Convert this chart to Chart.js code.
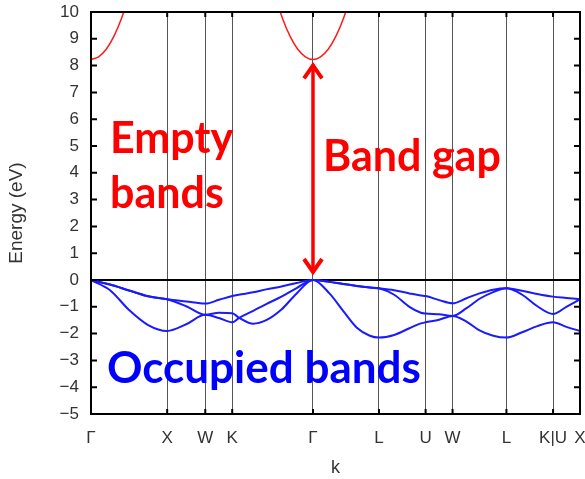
<!DOCTYPE html>
<html>
<head>
<meta charset="utf-8">
<script src="https://cdn.jsdelivr.net/npm/chart.js@4"></script>
<style>
  html, body { margin: 0; padding: 0; background: #fff; }
  #wrap { width: 585px; height: 479px; }
</style>
</head>
<body>
<div id="wrap"><canvas id="bandChart" width="585" height="479"></canvas></div>
<script>
// high-symmetry points along the k path
const symK = [0, 1, 1.5, 1.8536, 2.9142, 3.7802, 4.3926, 4.7462, 5.4533, 6.0657, 6.4193];
const symLabels = ['Γ', 'X', 'W', 'K', 'Γ', 'L', 'U', 'W', 'L', 'K|U', 'X'];

// sample points for the occupied (valence) bands
const kPath = [0, 0.25, 0.5, 0.75, 1, 1.25, 1.5, 1.68, 1.8536, 1.94, 2.13, 2.3, 2.5, 2.7, 2.9142,
  3.13, 3.31, 3.49, 3.66, 3.7802, 3.98, 4.18, 4.33, 4.3926, 4.57, 4.7462,
  4.93, 5.1, 5.28, 5.4533, 5.66, 5.86, 6.0657, 6.24, 6.4193];
const band1 = [0, -0.17, -0.39, -0.61, -0.72, -0.80, -0.88, -0.74, -0.60, -0.55, -0.46, -0.35, -0.24, -0.11, 0,
  -0.07, -0.15, -0.22, -0.28, -0.31, -0.38, -0.50, -0.58, -0.60, -0.75, -0.87,
  -0.68, -0.50, -0.36, -0.31, -0.40, -0.52, -0.62, -0.67, -0.72];
const band2 = [0, -0.17, -0.39, -0.61, -0.72, -0.98, -1.30, -1.22, -1.24, -1.40, -1.63, -1.50, -1.10, -0.50, 0,
  -0.07, -0.15, -0.22, -0.28, -0.31, -0.55, -1.00, -1.22, -1.25, -1.28, -1.34,
  -1.05, -0.70, -0.45, -0.31, -0.55, -0.98, -1.27, -1.00, -0.72];
const band3 = [0, -0.38, -1.12, -1.68, -1.90, -1.65, -1.30, -1.42, -1.58, -1.42, -1.15, -0.90, -0.62, -0.30, 0,
  -0.50, -1.15, -1.78, -2.08, -2.15, -2.05, -1.80, -1.62, -1.58, -1.48, -1.34,
  -1.55, -1.88, -2.08, -2.15, -1.95, -1.72, -1.58, -1.75, -1.90];

// lowest empty band near the two Γ points
const cbK1 = [0, 0.1, 0.2, 0.3, 0.4, 0.5];
const cbE1 = [8.23, 8.33, 8.61, 9.09, 9.76, 10.62];
const cbK2 = [2.414, 2.514, 2.614, 2.714, 2.814, 2.9142, 3.014, 3.114, 3.214, 3.314, 3.414];
const cbE2 = [10.62, 9.76, 9.09, 8.61, 8.33, 8.23, 8.33, 8.61, 9.09, 9.76, 10.62];

const toPts = (xs, ys) => xs.map((x, i) => ({ x: x, y: ys[i] }));

function bandSet(xs, ys, color, width) {
  return {
    data: toPts(xs, ys),
    showLine: true,
    borderColor: color,
    borderWidth: width,
    pointRadius: 0,
    cubicInterpolationMode: 'monotone',
    fill: false
  };
}

// frame, inward ticks, arrow and labels
const decorations = {
  id: 'decorations',
  afterDraw(chart) {
    const ctx = chart.ctx;
    const area = chart.chartArea;
    const xs = chart.scales.x;
    const ys = chart.scales.y;
    ctx.save();

    // ticks pointing inward
    ctx.strokeStyle = '#000';
    ctx.lineWidth = 2;
    ys.ticks.forEach(t => {
      const py = ys.getPixelForValue(t.value);
      ctx.beginPath();
      ctx.moveTo(area.left, py); ctx.lineTo(area.left + 6, py);
      ctx.moveTo(area.right, py); ctx.lineTo(area.right - 6, py);
      ctx.stroke();
    });
    symK.forEach(k => {
      const px = xs.getPixelForValue(k);
      ctx.beginPath();
      ctx.moveTo(px, area.bottom); ctx.lineTo(px, area.bottom - 5);
      ctx.moveTo(px, area.top); ctx.lineTo(px, area.top + 5);
      ctx.stroke();
    });

    // frame
    ctx.lineWidth = 2;
    ctx.strokeRect(area.left, area.top, area.right - area.left, area.bottom - area.top);

    // band gap arrow
    const ax = xs.getPixelForValue(symK[4]);
    const yTop = ys.getPixelForValue(cbE2[5]) + 3;
    const yBot = ys.getPixelForValue(0) - 5;
    ctx.strokeStyle = '#ff0000';
    ctx.lineWidth = 3.5;
    ctx.lineCap = 'butt';
    ctx.beginPath();
    ctx.moveTo(ax, yTop + 2); ctx.lineTo(ax, yBot - 2);
    ctx.stroke();
    ctx.lineWidth = 4;
    ctx.lineJoin = 'miter';
    ctx.beginPath();
    ctx.moveTo(ax - 9, yTop + 16); ctx.lineTo(ax, yTop + 3); ctx.lineTo(ax + 9, yTop + 16);
    ctx.moveTo(ax - 9, yBot - 16); ctx.lineTo(ax, yBot - 3); ctx.lineTo(ax + 9, yBot - 16);
    ctx.stroke();

    // annotations
    ctx.textAlign = 'left';
    ctx.textBaseline = 'alphabetic';
    ctx.fillStyle = '#ff0000';
    ctx.font = 'bold 43px Lato';
    ctx.fillText('Empty', 110, 153);
    ctx.fillText('bands', 110, 208);
    ctx.fillText('Band gap', 323, 171);
    ctx.fillStyle = '#0000ff';
    ctx.font = 'bold 44px Lato';
    ctx.fillText('Occupied bands', 107, 383);
    ctx.restore();
  }
};

const ctx = document.getElementById('bandChart').getContext('2d');
new Chart(ctx, {
  type: 'scatter',
  data: {
    datasets: [
      bandSet(kPath, band1, '#1a1aff', 2),
      bandSet(kPath, band2, '#1a1aff', 2),
      bandSet(kPath, band3, '#1a1aff', 2),
      bandSet(cbK1, cbE1, '#ff1a1a', 1.5),
      bandSet(cbK2, cbE2, '#ff1a1a', 1.5)
    ]
  },
  options: {
    responsive: false,
    animation: false,
    layout: { padding: { left: 0, top: 12, right: 5, bottom: 0 } },
    plugins: {
      legend: { display: false },
      tooltip: { enabled: false }
    },
    scales: {
      x: {
        type: 'linear',
        min: 0,
        max: symK[symK.length - 1],
        afterBuildTicks: axis => { axis.ticks = symK.map(v => ({ value: v })); },
        afterFit: scale => { scale.height = 65; scale.paddingLeft = 0; scale.paddingRight = 0; },
        ticks: {
          autoSkip: false,
          maxRotation: 0,
          padding: 14,
          color: '#333',
          font: { family: 'Liberation Sans', size: 17 },
          callback: (value, index) => symLabels[index]
        },
        grid: { color: '#555', lineWidth: 1, drawTicks: false },
        border: { display: true, color: '#000', width: 2 },
        title: {
          display: true,
          text: 'k',
          color: '#333',
          font: { family: 'Liberation Sans', size: 18 },
          padding: { top: 6, bottom: 0 }
        }
      },
      y: {
        min: -5,
        max: 10,
        afterFit: scale => { scale.width = 91; scale.paddingTop = 0; scale.paddingBottom = 0; },
        ticks: {
          stepSize: 1,
          padding: 12,
          color: '#333',
          font: { family: 'Liberation Sans', size: 17 },
          callback: value => String(value).replace('-', '\u2212')
        },
        grid: {
          drawTicks: false,
          color: c => (c.tick && c.tick.value === 0) ? '#000' : 'rgba(0,0,0,0)',
          lineWidth: c => (c.tick && c.tick.value === 0) ? 2 : 0
        },
        border: { display: true, color: '#000', width: 2 },
        title: {
          display: true,
          text: 'Energy (eV)',
          color: '#333',
          font: { family: 'Liberation Sans', size: 19 },
          padding: { top: 5, bottom: 4 }
        }
      }
    }
  },
  plugins: [decorations]
});
</script>
</body>
</html>
